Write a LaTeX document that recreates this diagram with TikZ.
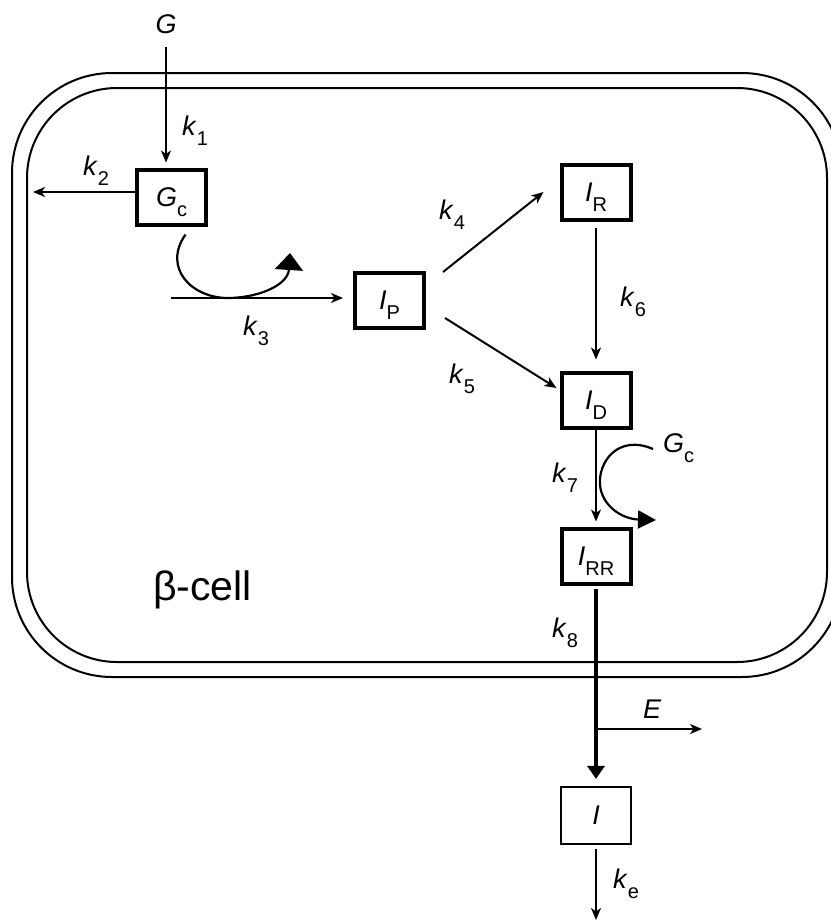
\documentclass[tikz,border=0pt]{standalone}
\usepackage{fontspec}
\setmainfont{Liberation Sans}
\usetikzlibrary{arrows.meta,calc}
\newcommand\sbs[1]{\raisebox{-10pt}[0pt][0pt]{\fontsize{20}{20}\selectfont #1}}
\newcommand\kk[1]{\textit{k}\sbs{#1}}
\begin{document}
\begin{tikzpicture}[x=1pt,y=-1pt, font=\fontsize{27}{32}\selectfont,
  box/.style={draw, line width=4pt, minimum width=69pt, minimum height=55pt, inner sep=0pt},
  thinbox/.style={draw, line width=2.2pt, minimum width=70pt, minimum height=57pt, inner sep=0pt},
  arr/.style={line width=2pt, -{Stealth[length=12pt,width=10pt,inset=3.5pt]}},
  thickarr/.style={line width=4pt, -{Triangle[length=13pt,width=17pt]}},
  mem/.style={line width=2pt},
  curv/.style={line width=2.2pt},
  lab/.style={inner sep=0pt, anchor=base west}]
\useasboundingbox (0,0) rectangle (830,921);
\fill[white] (0,0) rectangle (830,921);
% membrane
\draw[mem, rounded corners=100pt] (12,73) rectangle (842,677);
\draw[mem, rounded corners=90pt] (27,88) rectangle (827,662);
% boxes
\node[box] (Gc) at (171.5,197) {\textit{G}\sbs{c}};
\node[box] (IP) at (389.5,300) {\textit{I}\sbs{P}};
\node[box] (IR) at (596,192) {\textit{I}\sbs{R}};
\node[box] (ID) at (596,400) {\textit{I}\sbs{D}};
\node[box] (IRR) at (596,556) {\textit{I}\sbs{RR}};
\node[thinbox] (I) at (596,815.5) {\textit{I}};
% free text
\node[inner sep=0pt, anchor=base] (G) at (166,33) {\textit{G}};
\node[lab] (l1) at (182,135) {\kk{1}};
\node[lab] (l2) at (83,175) {\kk{2}};
\node[lab] (l3) at (243,335) {\kk{3}};
\node[lab] (l4) at (439,219) {\kk{4}};
\node[lab] (l5) at (449,383) {\kk{5}};
\node[lab] (l6) at (620,306) {\kk{6}};
\node[lab] (l7) at (552,482) {\kk{7}};
\node[lab] (lG) at (663,452) {\textit{G}\sbs{c}};
\node[lab] (l8) at (552,637) {\kk{8}};
\node[lab] (lE) at (643,718) {\textit{E}};
\node[lab] (le) at (613,888) {\kk{e}};
\node[lab, font=\fontsize{41}{48}\selectfont] (beta) at (153,600) {β-cell};
% coordinates
\coordinate (k2end) at (33,192);
\coordinate (k3start) at (171,298);
\coordinate (Ebr) at (596,729);
\coordinate (Eend) at (702,729);
\coordinate (keend) at (596,920);
% connectors
\draw[arr, shorten <=14pt, shorten >=5pt] (G.south) -- (G.south |- Gc.north);
\draw[arr] (k2end -| Gc.west) -- (k2end);
\draw[arr, shorten >=10pt] (k3start) -- (k3start -| IP.west);
\draw[arr] ($(IP.east)+(17,-28)$) -- ($(IR.west)+(-16,0)$);
\draw[arr] ($(IP.east)+(19,18)$) -- ($(ID.west)+(-3,-12)$);
\draw[arr, shorten <=6pt, shorten >=11pt] (IR.south) -- (ID.north);
\draw[arr, shorten >=5pt] (ID.south) -- (IRR.north);
\draw[thickarr, shorten <=3pt, shorten >=7pt] (IRR.south) -- (I.north);
\draw[arr] (Ebr) -- (Eend);
\draw[arr, shorten <=4pt] (I.south) -- (keend);
% curved effect arrows
\draw[curv, -{Triangle[length=17pt,width=28pt]}]
  ($(Gc.south)+(14,8)$) .. controls (162,268) and (192,299) .. (230,298)
  .. controls (262,297) and (288,284) .. (290,253);
\draw[curv, -{Triangle[length=18pt,width=18pt]}]
  (653,449) .. controls (618,434) and (598,462) .. (600,485)
  .. controls (602,506) and (622,519) .. (656,520);
\end{tikzpicture}
\end{document}
